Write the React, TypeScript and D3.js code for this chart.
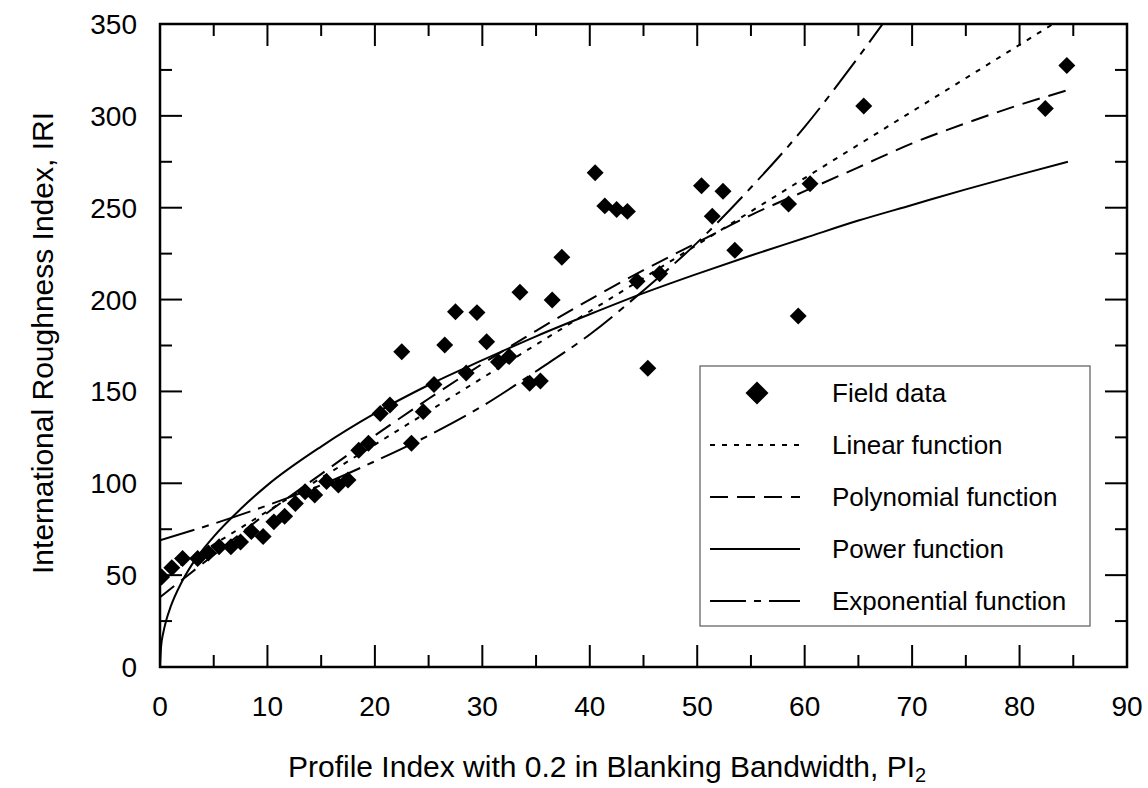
import React, { useEffect, useRef } from "react";
import * as d3 from "d3";

// field data: PI2 (x) vs IRI (y)
const fieldX = [0.15, 1.1, 2.1, 3.5, 4.5, 5.5, 6.6, 7.5, 8.5, 9.6, 10.6, 11.6, 12.6, 13.5, 14.4, 15.5, 16.6, 17.5, 18.5, 19.4, 20.5, 21.4, 22.5, 23.4, 24.5, 25.5, 26.5, 27.5, 28.5, 29.5, 30.4, 31.5, 32.5, 33.5, 34.4, 35.4, 36.5, 37.4, 40.5, 41.4, 42.5, 43.5, 44.4, 45.4, 46.5, 50.4, 51.4, 52.4, 53.5, 58.5, 59.4, 60.5, 65.5, 82.4, 84.4];
const fieldY = [49, 54, 59, 59, 62, 65.5, 65.5, 68, 73.7, 71, 79, 82, 89, 95.4, 93.6, 101, 99, 101.8, 118, 121.8, 138, 142.6, 171.6, 121.8, 139, 153.8, 175.3, 193.4, 160, 192.9, 177, 166, 169, 204, 154.4, 155.7, 199.8, 223, 269, 251, 249, 248, 210, 162.6, 214, 262, 245.4, 259, 226.8, 252, 191, 263, 305.4, 304, 327.4];

// fitted curves
const linearX = [0, 84.5];
const linearY = [48.5, 355];
const polyX = [0, 5, 10, 15, 20, 25, 30, 35, 40, 45, 50, 55, 60, 65, 70, 75, 80, 84.5];
const polyY = [38, 61, 84, 105, 126, 146, 165, 183, 200, 216, 231, 246, 259, 272, 285, 296, 306, 314];
const powerX = [0, 0.1, 0.3, 0.6, 1, 2, 3, 5, 7.5, 10, 15, 20, 25, 30, 35, 40, 45, 50, 55, 60, 65, 70, 75, 80, 84.5];
const powerY = [0, 11, 18.5, 25.8, 33, 46, 56, 71, 86, 99, 120, 138, 153.5, 167, 180, 192, 203.5, 214, 224, 233.5, 243, 251.5, 260, 268, 275];
const expX = [0, 5, 10, 15, 20, 25, 30, 35, 40, 45, 50, 55, 60, 65, 68];
const expY = [69, 78, 88, 99, 112, 126, 142, 161, 181, 205, 231, 261, 294, 332, 356];

const xTicks = [0, 10, 20, 30, 40, 50, 60, 70, 80, 90];
const yTicks = [0, 50, 100, 150, 200, 250, 300, 350];

const legendNames = ["Field data", "Linear function", "Polynomial function", "Power function", "Exponential function"];
const dashes = ["", "5,7", "18,9", "", "36,8,7,8"];

const FONT = "'Liberation Sans', Arial, sans-serif";

export default function App() {
  const ref = useRef<SVGSVGElement>(null);

  useEffect(() => {
    const margin = { top: 24, right: 21, bottom: 121, left: 160 };
    const W = 1148, H = 788;
    const width = W - margin.left - margin.right;
    const height = H - margin.top - margin.bottom;

    const svg = d3.select(ref.current);
    svg.selectAll("*").remove();

    const x = d3.scaleLinear().domain([0, 90]).range([0, width]);
    const y = d3.scaleLinear().domain([0, 350]).range([height, 0]);

    svg.append("defs").append("clipPath").attr("id", "plotclip")
      .append("rect").attr("width", width).attr("height", height);

    const g = svg.append("g").attr("transform", `translate(${margin.left},${margin.top})`);

    // ticks, pointing inward on all four sides
    const xAll = d3.range(0, 91, 5);
    const yAll = d3.range(0, 351, 25);
    const tk = g.append("g").attr("stroke", "#000").attr("stroke-width", 2);
    xAll.forEach(v => {
      const len = v % 10 === 0 ? 22 : 12;
      tk.append("line").attr("x1", x(v)).attr("x2", x(v)).attr("y1", height).attr("y2", height - len);
      tk.append("line").attr("x1", x(v)).attr("x2", x(v)).attr("y1", 0).attr("y2", len);
    });
    yAll.forEach(v => {
      const len = v % 50 === 0 ? 22 : 12;
      tk.append("line").attr("y1", y(v)).attr("y2", y(v)).attr("x1", 0).attr("x2", len);
      tk.append("line").attr("y1", y(v)).attr("y2", y(v)).attr("x1", width).attr("x2", width - len);
    });

    g.append("g").selectAll("text").data(xTicks).enter().append("text")
      .attr("x", d => x(d)).attr("y", height + 49)
      .attr("text-anchor", "middle")
      .style("font-family", FONT).style("font-size", "28px")
      .text(d => d);
    g.append("g").selectAll("text").data(yTicks).enter().append("text")
      .attr("x", -23).attr("y", d => y(d) + 10)
      .attr("text-anchor", "end")
      .style("font-family", FONT).style("font-size", "28px")
      .text(d => d);

    // curves
    const plot = g.append("g").attr("clip-path", "url(#plotclip)");
    const line = d3.line<[number, number]>()
      .x(d => x(d[0])).y(d => y(d[1]))
      .curve(d3.curveMonotoneX);
    const curves: [number[], number[], string][] = [
      [linearX, linearY, dashes[1]],
      [polyX, polyY, dashes[2]],
      [powerX, powerY, dashes[3]],
      [expX, expY, dashes[4]],
    ];
    curves.forEach(([xs, ys, dash]) => {
      plot.append("path")
        .datum(xs.map((v, i) => [v, ys[i]] as [number, number]))
        .attr("fill", "none")
        .attr("stroke", "#000")
        .attr("stroke-width", 2)
        .attr("stroke-dasharray", dash || null)
        .attr("d", line);
    });

    const diamond = (s: number) => d3.symbol().type(d3.symbolSquare).size(s)();
    plot.append("g").selectAll("path").data(fieldX).enter().append("path")
      .attr("d", diamond(144))
      .attr("transform", (d, i) => `translate(${x(d)},${y(fieldY[i])}) rotate(45)`)
      .attr("fill", "#000");

    // frame
    g.append("rect").attr("width", width).attr("height", height)
      .attr("fill", "none").attr("stroke", "#000").attr("stroke-width", 2.5);

    // legend
    const lg = svg.append("g").attr("transform", "translate(700,366)");
    lg.append("rect").attr("width", 390).attr("height", 260)
      .attr("fill", "#fff").attr("stroke", "#666").attr("stroke-width", 1.3);
    legendNames.forEach((name, i) => {
      const ry = 27 + i * 52;
      if (i === 0) {
        lg.append("path").attr("d", diamond(265))
          .attr("transform", `translate(57,${ry}) rotate(45)`).attr("fill", "#000");
      } else {
        lg.append("line").attr("x1", 10).attr("x2", 100).attr("y1", ry).attr("y2", ry)
          .attr("stroke", "#000").attr("stroke-width", 2)
          .attr("stroke-dasharray", dashes[i] || null);
      }
      lg.append("text").attr("x", 132).attr("y", ry + 9)
        .style("font-family", FONT).style("font-size", "26px")
        .text(name);
    });

    // axis titles
    const xt = svg.append("text").attr("x", 288).attr("y", 777)
      .style("font-family", FONT).style("font-size", "30px");
    xt.append("tspan").text("Profile Index with 0.2 in Blanking Bandwidth, PI");
    xt.append("tspan").attr("dy", 5).style("font-size", "20px").text("2");

    svg.append("text")
      .attr("transform", "translate(53,343) rotate(-90)")
      .attr("text-anchor", "middle")
      .style("font-family", FONT).style("font-size", "30px")
      .text("International Roughness Index, IRI");
  }, []);

  return (
    <svg ref={ref} width={1148} height={788}
      style={{ position: "absolute", left: 0, top: 0, background: "#fff" }} />
  );
}
